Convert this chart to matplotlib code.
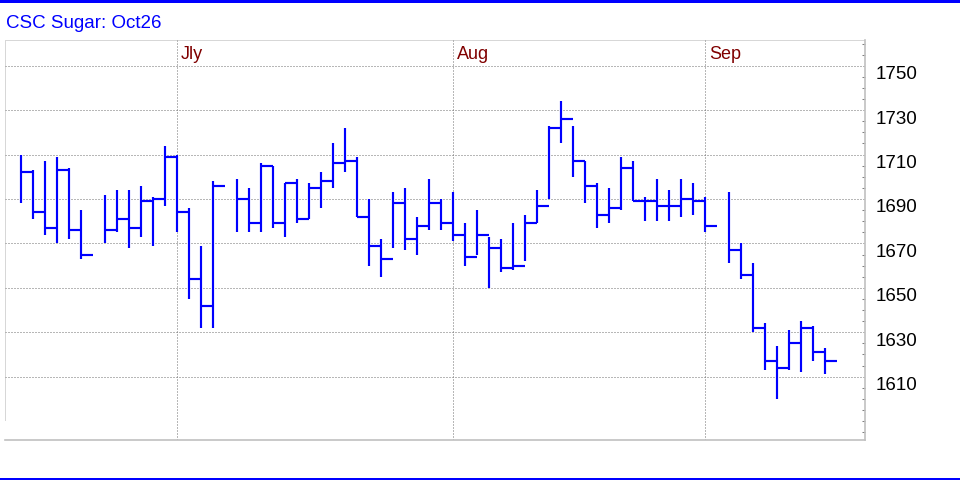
import numpy as np
import pandas as pd
import matplotlib
matplotlib.use('Agg')
import matplotlib.pyplot as plt
from matplotlib.patches import Rectangle
from matplotlib.transforms import offset_copy
from matplotlib.ticker import MultipleLocator, FixedLocator

plt.rcParams['font.family'] = ['Liberation Sans', 'DejaVu Sans']

title = 'CSC Sugar: Oct26'

dates = [
    '2025-06-11', '2025-06-12', '2025-06-13', '2025-06-16', '2025-06-17', '2025-06-18',
    '2025-06-20', '2025-06-23', '2025-06-24', '2025-06-25', '2025-06-26', '2025-06-27',
    '2025-06-30', '2025-07-01', '2025-07-02', '2025-07-03',
    '2025-07-07', '2025-07-08', '2025-07-09', '2025-07-10', '2025-07-11',
    '2025-07-14', '2025-07-15', '2025-07-16', '2025-07-17', '2025-07-18',
    '2025-07-21', '2025-07-22', '2025-07-23', '2025-07-24', '2025-07-25',
    '2025-07-28', '2025-07-29', '2025-07-30', '2025-07-31', '2025-08-01',
    '2025-08-04', '2025-08-05', '2025-08-06', '2025-08-07', '2025-08-08',
    '2025-08-11', '2025-08-12', '2025-08-13', '2025-08-14', '2025-08-15',
    '2025-08-18', '2025-08-19', '2025-08-20', '2025-08-21', '2025-08-22',
    '2025-08-25', '2025-08-26', '2025-08-27', '2025-08-28', '2025-08-29',
    '2025-09-02', '2025-09-03', '2025-09-04', '2025-09-05',
    '2025-09-08', '2025-09-09', '2025-09-10', '2025-09-11', '2025-09-12',
]

highs = [1710, 1703, 1707, 1709, 1704, 1685,
         1692, 1694, 1694, 1696, 1691, 1714,
         1710, 1686, 1669, 1698,
         1699, 1695, 1706, 1705, 1697,
         1699, 1697, 1702, 1715, 1722,
         1709, 1690, 1672, 1693, 1695,
         1682, 1699, 1690, 1693, 1679,
         1685, 1673, 1672, 1679, 1683,
         1694, 1723, 1734, 1723, 1707,
         1697, 1695, 1709, 1707, 1691,
         1699, 1694, 1699, 1697, 1691,
         1693, 1670, 1661, 1634,
         1624, 1631, 1635, 1633, 1623]

lows = [1688, 1681, 1674, 1670, 1672, 1663,
        1670, 1675, 1668, 1673, 1669, 1687,
        1675, 1645, 1632, 1632,
        1675, 1675, 1675, 1677, 1673,
        1679, 1681, 1686, 1695, 1702,
        1682, 1660, 1655, 1668, 1667,
        1665, 1676, 1676, 1671, 1660,
        1665, 1650, 1657, 1658, 1662,
        1679, 1690, 1715, 1700, 1688,
        1677, 1679, 1685, 1689, 1680,
        1680, 1680, 1682, 1683, 1675,
        1661, 1654, 1630, 1613,
        1600, 1613, 1612, 1617, 1611]

closes = [1702, 1684, 1677, 1703, 1676, 1665,
          1676, 1681, 1677, 1689, 1690, 1709,
          1684, 1654, 1642, 1696,
          1690, 1679, 1705, 1679, 1697,
          1681, 1695, 1698, 1706, 1707,
          1682, 1669, 1663, 1688, 1672,
          1678, 1688, 1679, 1674, 1664,
          1674, 1668, 1659, 1660, 1679,
          1687, 1722, 1726, 1707, 1696,
          1683, 1686, 1704, 1689, 1689,
          1687, 1687, 1690, 1689, 1678,
          1667, 1656, 1632, 1617,
          1614, 1625, 1632, 1621, 1617]

month_labels = ['Jly', 'Aug', 'Sep']
month_lines = ['2025-06-30', '2025-07-31', '2025-08-29']
price_ticks = [1610, 1630, 1650, 1670, 1690, 1710, 1730, 1750]

# trading-day positions, holidays leave a gap
days = pd.bdate_range('2025-06-11', '2025-09-30')
pos = days.get_indexer(pd.to_datetime(dates))
mpos = days.get_indexer(pd.to_datetime(month_lines))

fig = plt.figure(figsize=(9.6, 4.8), dpi=100)
fig.patch.set_facecolor('white')
ax = fig.add_axes([5 / 960, 40 / 480, 860 / 960, 400 / 480])
ax.set_xlim(-1.333, 70.333)
ax.set_ylim(1581.5, 1761.6)

blue = '#0000ff'
ax.vlines(pos, lows, highs, color=blue, linewidth=1.55, zorder=3)
ax.hlines(closes, pos, pos + 1, color=blue, linewidth=1.55, zorder=3)

# grid: small dots, about 3px apart
grid_kw = dict(color='#707070', linewidth=0.72, linestyle=(0, (1, 2)), zorder=1)
for p in price_ticks:
    ax.axhline(p, **grid_kw)
for m in mpos:
    ax.axvline(m, **grid_kw)
ax.axhline(1761.6, color='#b0b0b0', linewidth=0.72, linestyle=(0, (1, 1)), zorder=1)
ax.axvline(-1.333, ymin=0.05, ymax=1, color='#b0b0b0', linewidth=0.72,
           linestyle=(0, (1, 1)), zorder=1)

for s in ['top', 'left']:
    ax.spines[s].set_visible(False)
for s in ['right', 'bottom']:
    ax.spines[s].set_color('#c0c0c0')
    ax.spines[s].set_linewidth(1.2)

ax.set_xticks([])
ax.yaxis.tick_right()
ax.yaxis.set_major_locator(FixedLocator(price_ticks))
ax.yaxis.set_minor_locator(MultipleLocator(5))
ax.tick_params(axis='y', which='major', length=0, labelright=False)
ax.tick_params(axis='y', which='minor', direction='in', length=2.5, width=0.75,
               color='#808080')

# price labels: digit tops sit on the grid line
lab_tr = offset_copy(ax.get_yaxis_transform(), fig=fig, x=8, y=-9.7, units='points')
for p in price_ticks:
    ax.text(1.0, p, str(p), transform=lab_tr, ha='left', va='baseline',
            fontsize=13.5, color='black')

mon_tr = offset_copy(ax.transData, fig=fig, x=2.8, y=0, units='points')
for m, lab in zip(mpos, month_labels):
    ax.text(m, 1753, lab, transform=mon_tr, ha='left', va='baseline',
            fontsize=13, color='#800000')

fig.text(6 / 960, 1 - 27.5 / 480, title, ha='left', va='baseline',
         fontsize=13.5, color=blue)

fig.add_artist(Rectangle((0, 1 - 3 / 480), 1, 3 / 480, transform=fig.transFigure,
                         color=blue, linewidth=0))
fig.add_artist(Rectangle((0, 0), 1, 2.5 / 480, transform=fig.transFigure,
                         color=blue, linewidth=0))

fig.savefig('out.png', dpi=100)
